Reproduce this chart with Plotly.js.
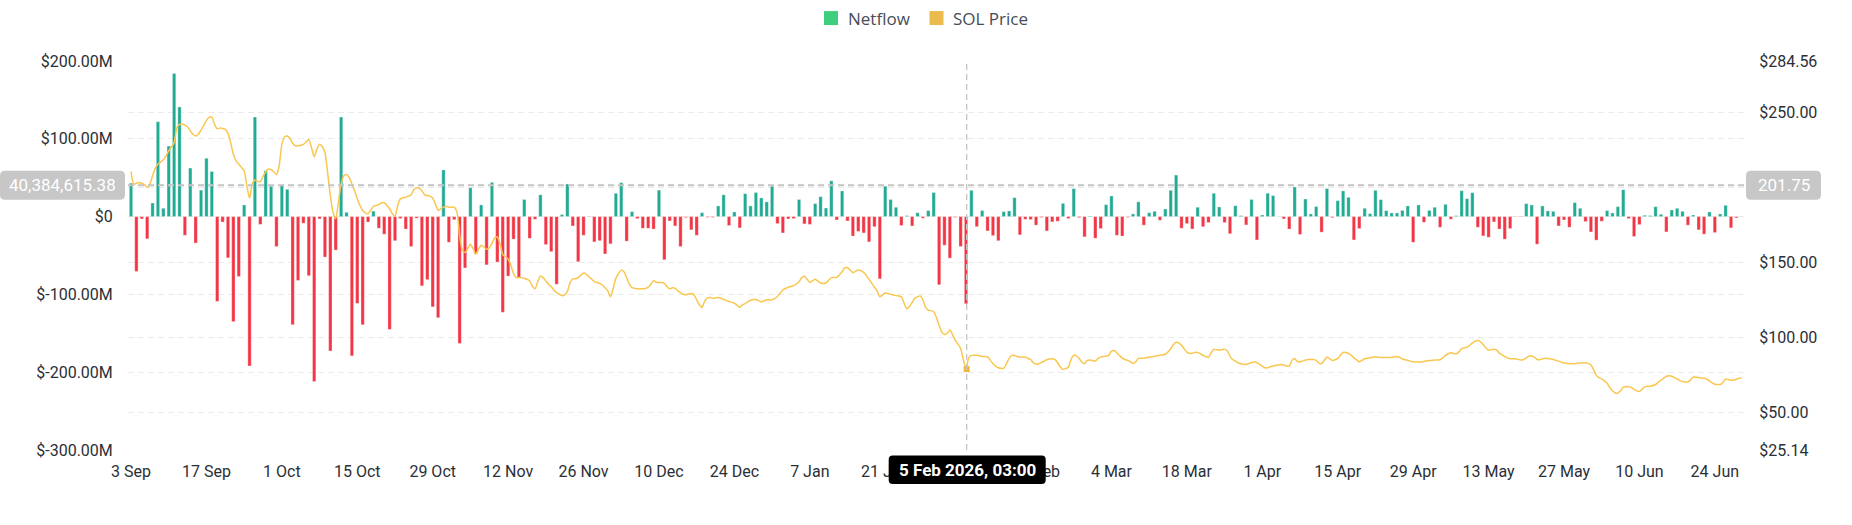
<!DOCTYPE html>
<html><head><meta charset="utf-8">
<script src="https://cdn.plot.ly/plotly-3.0.1.min.js"></script>
<style>html,body{margin:0;padding:0;background:#fff;} #chart{width:1852px;height:525px;}</style>
</head><body><div id="chart"></div>
<script>
// ---------- DATA ----------
const startDate = [2025, 8, 3]; // 3 Sep 2025 (UTC, month 0-based)

// Daily exchange netflow, $ millions (one value per day from 3 Sep 2025)
const netflowM = [
 43,-70.5,-3,-28.6,17.5,122,10.7,90.6,184,141,
 -24,62.4,-34,34,75,58,-109,-7,-53,-135,
 -77,15,-192,128,-10,59,39,-38.5,40,35,
 -139,-82,-8.5,-76,-212,-3,-52,-172.6,-43,128,
 5.5,-179,-111.5,-139,-7,7,-15,-22.6,-145,-31,
 -2.5,-16,-38.5,-2,-89,-81,-116,-130,60,-33,
 -4,-163,-66,37,-48,15,-62,44,-58.5,-123,
 -76.5,-29,-79,22,-28,-3.4,28,-36,-45,-87,
 2.6,42,-12,-58,-24,-0.5,-32.5,-31,-48,-35,
 30,43.6,-31.6,6.4,-2.6,-15,-15,-16,34,-55.5,
 -5.6,-12,-38.5,-1.3,-17,-24,5,-1,-1,13.7,
 28,-11.5,6,-14.5,29.5,13.7,31,24,19,39,
 -9,-21,-3,-2.6,22,-9.4,-10,16.7,25.6,11,
 46,-4.3,33,-5.6,-25,-19,-21,-32.5,-13,-80,
 39,22,12,-11.5,1.3,-12,5,-2,7.7,31,
 -87.6,-36.8,-53.4,-1,-38.5,-112,33.8,-13,7.7,-18.4,
 -24.4,-31,6.4,7.3,24.4,-23.5,-3.4,-3.8,-11,-1,
 -18.4,-6.8,-6,17,-2.6,36,-1.3,-26,0.8,-27.8,
 -15.4,15.4,26.5,-24,-25,-1,3.4,19,-11,5,
 6.8,-4.7,9.8,33.8,53.4,-15,-9,-16,12,-13,
 -7.7,30,12.4,-7.7,-22,14,1.3,-10.7,22,-30,
 2,30,27,0.3,-3,-16,38,-23,22.6,3.4,
 13,-20,36,-1.3,20.5,33,24.8,-30,-15.4,10.7,
 3.8,33.8,21.8,7.7,4.7,4.7,8,13.7,-33,15,
 -7.3,8,12,-13.7,15.8,-3.4,1.3,33.3,23,30.8,
 -13.7,-24.8,-26.5,-6.8,-16,-29,-15.4,-0.5,-0.5,16.7,
 15,-35.5,13.7,7.3,6.8,-12,-4.3,-13.7,18,10.7,
 -6.4,-19.7,-30.3,-6,7.7,4.7,12.8,34.6,-2.6,-25.6,
 -10.3,1.7,1.3,12.8,3,-19.7,8.5,10.7,6.8,-11,
 2,-17,-22.6,6,-20.5,3.4,14.5,-14.5,-1.7
];

// SOL price: time (days after 3 Sep 2025) and value in USD
const priceDay = [
 0,0.5,1,1.5,2,2.5,3,3.5,4,4.5,5,5.5,6,6.5,7,7.5,8,8.5,9,9.5,
 10,10.5,11,11.5,12,12.5,13,13.5,14,14.5,15,15.5,16,16.5,17,17.5,18,18.5,19,19.5,
 20,20.5,21,21.5,22,22.5,23,23.5,24,24.5,25,25.5,26,26.5,27,27.5,28,28.5,29,29.5,
 30,30.5,31,31.5,32,32.5,33,33.5,34,34.5,35,35.5,36,36.5,37,37.5,38,38.5,39,39.5,
 40,40.5,41,41.5,42,42.5,43,43.5,44,44.5,45,45.5,46,46.5,47,47.5,48,48.5,49,49.5,
 50,50.5,51,51.5,52,52.5,53,53.5,54,54.5,55,55.5,56,56.5,57,57.5,58,58.5,59,59.5,
 60,60.5,61,61.5,62,62.5,63,63.5,64,64.5,65,65.5,66,66.5,67,67.5,68,68.5,69,69.5,
 70,70.5,71,71.5,72,72.5,73,73.5,74,74.5,75,75.5,76,76.5,77,77.5,78,78.5,79,79.5,
 80,80.5,81,81.5,82,82.5,83,83.5,84,84.5,85,85.5,86,86.5,87,87.5,88,88.5,89,89.5,
 90,90.5,91,91.5,92,92.5,93,93.5,94,94.5,95,95.5,96,96.5,97,97.5,98,98.5,99,99.5,
 100,100.5,101,101.5,102,102.5,103,103.5,104,104.5,105,105.5,106,106.5,107,107.5,108,108.5,109,109.5,
 110,110.5,111,112,112.5,113,113.5,114,115,116,117,118,119,120,120.5,121,122,123,124,124.5,
 125,125.5,126,126.5,127,128,129,130,131,132,132.5,133,133.5,134,135,136,137,138,138.5,139,
 140,141,142,143,143.5,144,144.5,145,145.5,146,146.5,147,147.5,148,149,
 150,150.5,151,151.5,152,152.5,153,153.5,154,154.5,155,155.5,156,156.5,157,157.5,158,158.5,159,159.5,
 160,160.5,161,161.5,162,162.5,163,163.5,164,164.5,165,165.5,166,166.5,167,167.5,168,168.5,169,169.5,
 170,170.5,171,171.5,172,172.5,173,173.5,174,174.5,175,175.5,176,176.5,177,177.5,178,178.5,179,179.5,
 180,180.5,181,181.5,182,182.5,183,183.5,184,184.5,185,185.5,186,186.5,187,
 188,189,190,191,192,193,193.5,194,194.5,195,195.5,196,196.5,197,197.5,198,198.5,199,199.5,
 200,200.5,201,201.5,202,202.5,203,203.5,204,204.5,205,205.5,206,206.5,207,207.5,208,208.5,209,209.5,
 210,210.5,211,211.5,212,212.5,213,213.5,214,214.5,215,215.5,216,216.5,217,217.5,218,218.5,219,219.5,
 220,220.5,221,221.5,222,222.5,223,223.5,224,224.5,225,
 226,226.5,227,227.5,228,228.5,229,229.5,230,231,232,233,234,235,235.5,236,236.5,237,237.5,238,238.5,239,
 240,241,242,243,243.5,244,244.5,245,245.5,246,246.5,247,247.5,248,248.5,249,249.5,
 250,250.5,251,251.5,252,252.5,253,253.5,254,254.5,255,255.5,256,257,258,258.5,259,259.5,
 260,260.5,261,261.5,262,262.5,263,264,265,266,267,268,269,270,271,271.5,272,272.5,273,273.5,
 274,274.5,275,275.5,276,276.5,277,277.5,278,278.5,279,279.5,280,280.5,281,282,283,283.5,284,284.5,
 285,285.5,286,286.5,287,287.5,288,288.5,289,289.5,290,290.5,291,291.5,292,292.5,293,293.5,294,294.5,
 295,295.5,296,296.5,297,297.5,298,299
];
const priceUSD = [
 211,202.5,203,203.6,203,202,200.3,202.5,208,213,215.8,217.3,218.7,221.3,224.6,227.3,230,240,242.3,242.5,
 241.8,240.5,237.9,235.7,234.5,235.7,238.5,241.6,245,247,247.1,242.3,239.4,239.8,239.6,239,236.3,230,222.4,218,
 215.8,213.6,211.4,201.4,193,202.5,205.2,204.3,204.1,207.6,210.7,212.5,212,210.7,208.7,214.7,229,233.9,234.5,233,
 229.7,228,228,228.4,229,230.6,232.3,226.8,220.6,225.7,229,227.5,223.5,210,194.8,183.8,179.4,190.4,202.5,208,
 208.9,207,202.5,198.1,192.6,188.2,184.9,183.3,182.7,184.9,187.7,188.2,188.9,190,190,188.2,186,182.7,181.1,188.2,
 192.6,193.3,193.7,194.4,195.3,198.8,199.9,199.7,198.1,195.3,194.8,194.4,193,189.3,184.9,186,187.1,187.7,187.1,187.1,
 187.1,183.8,168.3,158.4,156.8,159.5,162.4,159.5,155.7,159,161.7,160.6,159,159.9,162.8,166.6,167.2,162.8,155.5,154,
 152.4,148.5,142.9,140.1,140.1,140.1,139.6,139,137.9,134.5,132.6,137.4,141.2,140.1,137.9,135.7,134.1,131.9,130.1,129,
 128.1,128.6,130.8,136.8,139.2,139.4,140.1,141.8,143.2,142.5,140.7,139.2,137.4,136.8,136.3,135.2,133.4,131.2,127.3,133,
 139.6,142.9,145.1,144,140.1,135.7,133.4,133,132.6,132.6,132.6,132.8,133.7,135.7,138.1,137,136.8,136.8,136.3,134.1,
 132.6,133.4,133,131.2,130.1,129,128.6,129.2,129.5,128.6,125.3,122,120.2,124.6,126.6,126.8,126.4,126.6,126.8,126.4,
 125.7,124.8,124.2,123.1,121.5,120.4,122,122.8,125,125.5,123.9,125.3,125.3,127.5,129.7,131.9,133.7,134.8,137.4,140.1,
 141,139,137,137.9,139,136.5,136.5,140.1,140.3,144,146.7,146.7,145.1,143.4,145.1,143.6,139,133.7,131.2,127.3,
 129.9,129,128.1,127.3,123.1,119.3,120.9,123.5,126.4,127.3,127.9,125.3,120.2,118.4,117.5,
 108.3,103.9,102.1,103,105.2,102.1,98.3,95.9,92.8,85.5,79.1,86.6,88.2,88.4,88.4,88,87.5,87.5,87.3,85.1,
 82.7,81.1,80,79.6,79.6,82.7,86.2,88.2,88.2,87.5,87.1,87.1,87.1,86.2,85.5,83.3,82.4,82.7,83.5,84.4,
 85.3,85.8,86,85.5,83.3,80.5,78.9,79.4,80.5,85.5,88.4,87.9,86.2,83.8,82.7,84.9,85.1,84.9,84.4,86.2,
 87.1,87.5,87.7,88.2,91.1,91.5,90,88.2,86.4,85.5,84.9,84,82.9,84,86.2,
 86.4,87.1,87.7,88.4,89,92.6,95.5,97,96.6,95,92.6,90.4,89.5,89.7,90.2,90.2,89.3,88.2,87.5,
 86.9,90,92.2,92,91.7,92,92.4,91.1,87.7,85.5,84.4,83.3,82.7,82.4,82.2,82.9,83.3,84,83.5,82.2,
 81.1,80,80,80.7,81.1,81.6,81.8,82.2,81.8,81.1,81.1,84.9,86.2,84,84,84.4,85.1,85.5,85.5,85.5,
 84.9,83.1,82.7,84.9,87.1,86,84.9,85.3,86.2,88.4,90.2,
 89.5,88.4,86.6,85.3,84,84.9,86,86.4,86.6,87.3,86.9,86.9,86.9,87.5,86.9,85.8,85.3,84.9,84.4,84,83.8,83.8,
 84.2,84.9,85.1,85.3,86.6,88.2,89.3,90,89.5,89.3,90.6,92.8,93.3,93.7,95,96.6,97.7,
 98.1,97.2,95.5,93.3,91.7,92,92.4,91.7,89.7,88.6,87.5,86.6,86,86,85.1,85.5,86.6,87.7,
 87.9,87.1,85.5,85.3,86,86.4,86.2,85.5,84.4,83.1,82.7,82.7,83.1,83.3,81.8,78.7,74.9,73.4,72.5,71.2,
 69.6,66.8,64.6,63.2,63.2,64.6,67,67.4,67.4,66.8,65.7,64.6,64.1,65.7,67.4,67.7,68.8,70.3,71.7,73,
 74.3,74.6,74.3,73.4,72.5,71.4,70.8,70.5,70.5,71.9,73.9,73.6,73.4,73.2,73,72.3,71.2,69.9,69,68.8,
 68.8,70.1,72.5,72.1,71.6,71.8,72.3,73.4
];

// Axis ticks and labels
const xTickDays = [0,14,28,42,56,70,84,98,112,126,140,154,168,182,196,210,224,238,252,266,280,294];
const xTickText = ['3 Sep','17 Sep','1 Oct','15 Oct','29 Oct','12 Nov','26 Nov','10 Dec','24 Dec','7 Jan','21 Jan','4 Feb','18 Feb','4 Mar','18 Mar','1 Apr','15 Apr','29 Apr','13 May','27 May','10 Jun','24 Jun'];
const leftTickVals = [-300,-200,-100,0,100,200];
const leftTickText = ['$-300.00M','$-200.00M','$-100.00M','$0','$100.00M','$200.00M'];
// the $200 label is hidden behind the crosshair value box in the reference
const rightTickVals = [25.14,50,100,150,200,250,284.56];
const rightTickText = ['$25.14','$50.00','$100.00','$150.00','','$250.00','$284.56'];
const seriesNames = ['Netflow','SOL Price'];

// Crosshair state shown in the reference
const crossDay = 155.125;
const crossNetflowM = 40.38461538;
const crossLeftText = '40,384,615.38';
const crossRightText = '201.75';
const crossDateText = '5 Feb 2026, 03:00';
const hoverPriceDay = 155;

// ---------- STYLE ----------
const GREEN = '#22ab94', RED = '#f23645', YELLOW = '#f9c74f';
const LEG_GREEN = '#3ecf7e', LEG_YELLOW = '#ecbb4e';
const L = 128, W = 1617, T = 61, H = 389.5;
const px2x = p => (p - L) / W;
const px2y = p => (T + H - p) / H;

function dayToDate(d) {
  const t = Date.UTC(startDate[0], startDate[1], startDate[2]) + d * 86400000;
  return new Date(t).toISOString().slice(0, 19).replace('T', ' ');
}
const xRange = [dayToDate(-0.56), dayToDate(299.6)];
const crossPaperX = (crossDay + 0.56) / (299.6 + 0.56);
const crossPaperY = (crossNetflowM - leftTickVals[0]) / (leftTickVals[leftTickVals.length-1] - leftTickVals[0]);

function rrect(x0, y0, x1, y1, r) {
  return `M ${x0+r},${y0} L ${x1-r},${y0} Q ${x1},${y0} ${x1},${y0+r} L ${x1},${y1-r} Q ${x1},${y1} ${x1-r},${y1} L ${x0+r},${y1} Q ${x0},${y1} ${x0},${y1-r} L ${x0},${y0+r} Q ${x0},${y0} ${x0+r},${y0} Z`;
}

const barX = netflowM.map((_, i) => dayToDate(i));
const barColors = netflowM.map(v => v >= 0 ? GREEN : RED);

const traces = [
  {
    type: 'bar', name: seriesNames[0], x: barX, y: netflowM,
    marker: {color: barColors, line: {width: 0.6, color: 'rgba(255,255,255,0.55)'}},
    yaxis: 'y', hoverinfo: 'skip', showlegend: false
  },
  {
    type: 'scatter', mode: 'lines', name: seriesNames[1],
    x: priceDay.map(dayToDate), y: priceUSD, yaxis: 'y2',
    line: {color: YELLOW, width: 1.5, shape: 'spline', smoothing: 0.6},
    hoverinfo: 'skip', showlegend: false
  },
  {
    type: 'scatter', mode: 'markers', x: [dayToDate(crossDay)],
    y: [priceUSD[priceDay.indexOf(hoverPriceDay)]], yaxis: 'y2',
    marker: {color: '#f0b93a', size: 6, symbol: 'square'}, hoverinfo: 'skip', showlegend: false
  }
];

const gridStyle = {gridcolor: '#ebebeb', griddash: '6px,4px', gridwidth: 1};
const tickFont = {family: 'Roboto, sans-serif', size: 16, color: '#2b2f36'};

const layout = {
  width: 1852, height: 525,
  margin: {l: L, r: 1852 - L - W, t: T, b: 525 - T - H, pad: 0},
  paper_bgcolor: '#ffffff', plot_bgcolor: '#ffffff',
  showlegend: false, hovermode: false, bargap: 0.38,
  font: {family: 'Roboto, sans-serif', color: '#2b2f36'},
  xaxis: {
    type: 'date', range: xRange, tickmode: 'array',
    tickvals: xTickDays.map(dayToDate), ticktext: xTickText,
    showgrid: false, zeroline: false, showline: false,
    ticks: 'outside', ticklen: 7, tickcolor: 'rgba(0,0,0,0)', tickfont: tickFont
  },
  yaxis: Object.assign({
    range: [leftTickVals[0], leftTickVals[leftTickVals.length-1]], tickmode: 'array',
    tickvals: leftTickVals, ticktext: leftTickText, zeroline: false, showline: false,
    ticks: 'outside', ticklen: 11, tickcolor: 'rgba(0,0,0,0)', tickfont: tickFont
  }, gridStyle),
  yaxis2: Object.assign({
    overlaying: 'y', side: 'right',
    range: [rightTickVals[0], rightTickVals[rightTickVals.length-1]], tickmode: 'array',
    tickvals: rightTickVals, ticktext: rightTickText, zeroline: false, showline: false,
    ticks: 'outside', ticklen: 10, tickcolor: 'rgba(0,0,0,0)', tickfont: tickFont
  }, gridStyle),
  shapes: [
    // crosshair lines
    {type: 'line', xref: 'paper', yref: 'paper', x0: 0, x1: 1, y0: crossPaperY, y1: crossPaperY,
     line: {color: '#c4c4c4', width: 2, dash: '6px,4px'}, layer: 'above'},
    {type: 'line', xref: 'paper', yref: 'paper', x0: crossPaperX, x1: crossPaperX, y0: 0, y1: 1,
     line: {color: '#c4c4c4', width: 1.3, dash: '6px,4px'}, layer: 'above'},
    // left value box
    {type: 'path', xref: 'paper', yref: 'paper', xsizemode: 'pixel', ysizemode: 'pixel',
     xanchor: 0, yanchor: crossPaperY, path: rrect(-128, -14.5, -3, 14.5, 5),
     fillcolor: '#c7c7c7', line: {width: 0}, layer: 'above'},
    // right value box
    {type: 'path', xref: 'paper', yref: 'paper', xsizemode: 'pixel', ysizemode: 'pixel',
     xanchor: 1, yanchor: crossPaperY, path: rrect(1, -14.5, 76, 14.5, 5),
     fillcolor: '#c7c7c7', line: {width: 0}, layer: 'above'},
    // date tooltip
    {type: 'path', xref: 'paper', yref: 'paper', xsizemode: 'pixel', ysizemode: 'pixel',
     xanchor: crossPaperX, yanchor: 0, path: rrect(-78, -34, 79, -5.5, 4),
     fillcolor: '#000000', line: {width: 0}, layer: 'above'},
    // legend squares
    {type: 'rect', xref: 'paper', yref: 'paper', x0: px2x(824), x1: px2x(838), y0: px2y(25), y1: px2y(11),
     fillcolor: LEG_GREEN, line: {width: 0}},
    {type: 'rect', xref: 'paper', yref: 'paper', x0: px2x(929.5), x1: px2x(943.5), y0: px2y(25), y1: px2y(11),
     fillcolor: LEG_YELLOW, line: {width: 0}}
  ],
  annotations: [
    {xref: 'paper', yref: 'paper', x: 0, xshift: -65.5, y: crossPaperY, xanchor: 'center', yanchor: 'middle',
     text: crossLeftText, showarrow: false, font: {family: 'Roboto, sans-serif', size: 17, color: '#ffffff'}},
    {xref: 'paper', yref: 'paper', x: 1, xshift: 38.5, y: crossPaperY, xanchor: 'center', yanchor: 'middle',
     text: crossRightText, showarrow: false, font: {family: 'Roboto, sans-serif', size: 17, color: '#ffffff'}},
    {xref: 'paper', yref: 'paper', x: crossPaperX, xshift: 0.5, y: 0, yshift: -19.5, xanchor: 'center', yanchor: 'middle',
     text: '<b>' + crossDateText + '</b>', showarrow: false, font: {family: 'Roboto, sans-serif', size: 17, color: '#ffffff'}},
    {xref: 'paper', yref: 'paper', x: px2x(846), y: px2y(18), xanchor: 'left', yanchor: 'middle',
     text: seriesNames[0], showarrow: false, font: {family: '"Open Sans", sans-serif', size: 17, color: '#474d57'}},
    {xref: 'paper', yref: 'paper', x: px2x(951), y: px2y(18), xanchor: 'left', yanchor: 'middle',
     text: seriesNames[1], showarrow: false, font: {family: '"Open Sans", sans-serif', size: 17, color: '#474d57'}}
  ]
};

Plotly.newPlot('chart', traces, layout, {staticPlot: true, displayModeBar: false});
</script>
</body></html>
